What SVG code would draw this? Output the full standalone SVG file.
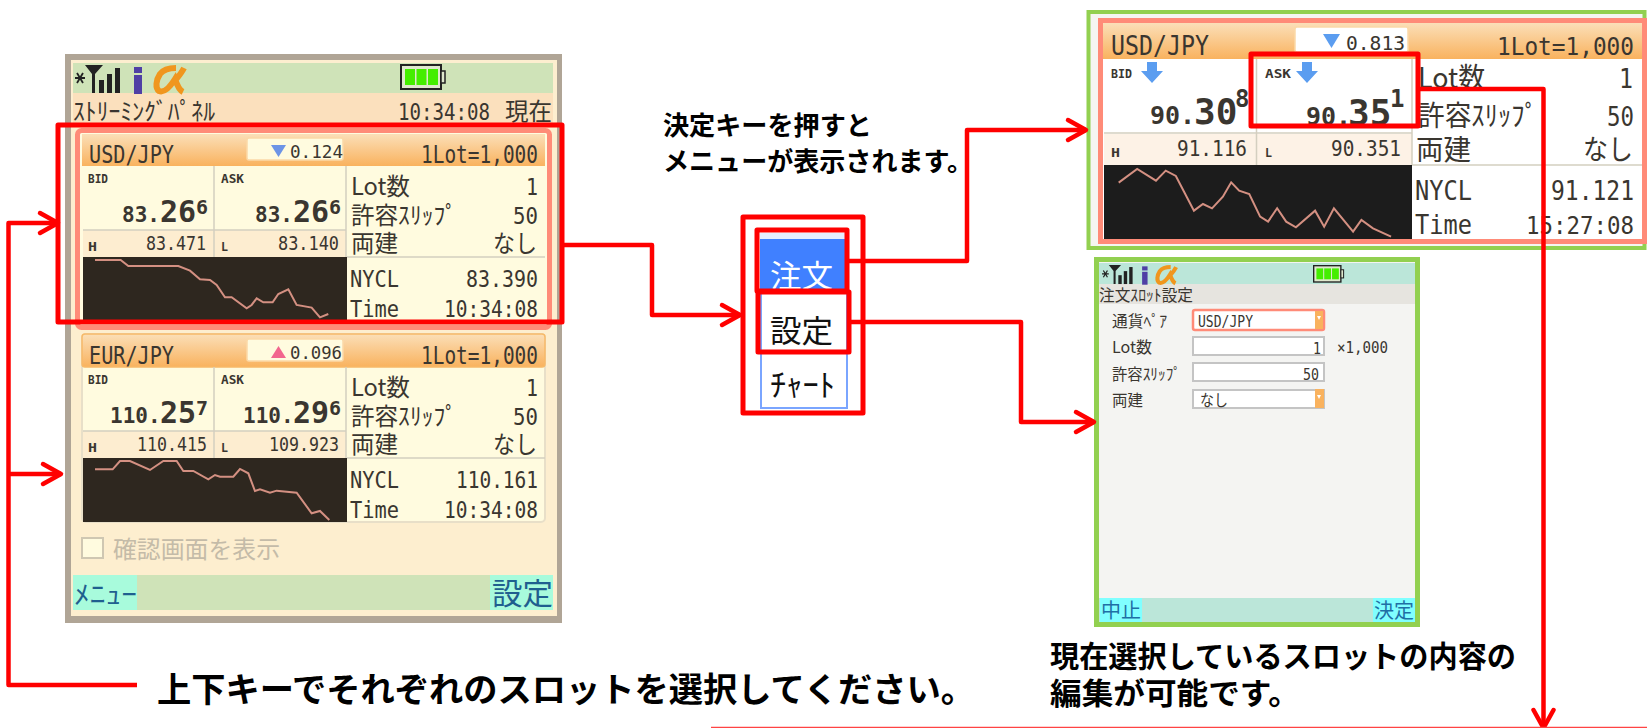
<svg xmlns="http://www.w3.org/2000/svg" width="1647" height="728" viewBox="0 0 1647 728">
<style>
text{white-space:pre}
.m{font-family:"DejaVu Sans Mono","Liberation Mono",monospace;fill:#3a3630}
.j{font-family:"Noto Sans CJK JP","Noto Sans",sans-serif;fill:#3a3630}
.b{font-family:"Noto Sans CJK JP","Liberation Sans",sans-serif;font-weight:700;fill:#000}
.h{font-size:25px}.d{font-size:18px}.t{font-size:12px;font-weight:700}
.p1{font-size:21px;font-weight:700}.p2{font-size:30px;font-weight:700}.p3{font-size:20px;font-weight:700}.v{font-size:19px}
.j2{font-size:24px}.n{font-size:23px}
.h2{font-size:27px}.h3{font-size:24px}.n2{font-size:27px}.n3{font-size:24px}.j3{font-size:28px}.v2{font-size:21px}.d2{font-size:20px}
.q1{font-size:25px;font-weight:700}.q2{font-size:36px;font-weight:700}.q3{font-size:24px;font-weight:700}
.hl{fill:none;stroke:#f00;stroke-width:5;stroke-linejoin:round}
.cn{fill:none;stroke:#f00;stroke-width:4.500;stroke-linejoin:round}
.ar{marker-end:url(#open)}
.chart{fill:none;stroke:#d49082;stroke-width:2;vector-effect:non-scaling-stroke}
.grid{stroke:#d4cfc0;stroke-width:1.500;fill:none}
.f{fill:#fff;stroke:#c4c4c4;stroke-width:2}
.s{font-size:16px}
</style>
<defs>
<linearGradient id="hd" x1="0" y1="0" x2="0" y2="1"><stop offset="0" stop-color="#fbdfb8"/><stop offset="1" stop-color="#f9b25e"/></linearGradient>
<marker id="open" markerUnits="userSpaceOnUse" markerWidth="26" markerHeight="26" viewBox="0 0 26 26" refX="22" refY="13" orient="auto" overflow="visible"><path d="M4 3L22 13L4 23" fill="none" stroke="#f00" stroke-width="4.500" stroke-linecap="round" stroke-linejoin="round"/></marker>
<g id="status">
<path d="M0 13H10M2 8L8 18M8 8L2 18" stroke="#222" stroke-width="1.800" fill="none"/>
<path d="M10 0H28L20 9V28H17V9Z" fill="#222"/>
<rect x="24" y="15" width="5" height="13" fill="#222"/><rect x="32" y="9" width="5" height="19" fill="#222"/><rect x="40" y="3" width="5" height="25" fill="#222"/>
<rect x="59" y="2" width="8" height="6" fill="#4f3fa5"/><rect x="59" y="10" width="8" height="19" fill="#4f3fa5"/>
<path d="M101 3C92 3 88 5 85 9C81 15 80 23 84 26C89 28 95 22 100 14C102 20 104 25 108 27M109 3C106 9 103 12 98 18" fill="none" stroke="#f0961e" stroke-width="6"/>
</g>
<g id="battery">
<rect x="1" y="1" width="40" height="24" fill="#dfe8cd" stroke="#222" stroke-width="2"/>
<rect x="41" y="7" width="4" height="12" fill="#dfe8cd" stroke="#222" stroke-width="1.500"/>
<rect x="5" y="5" width="10" height="16" fill="#44ee00"/><rect x="16.500" y="5" width="10" height="16" fill="#44ee00"/><rect x="28" y="5" width="10" height="16" fill="#44ee00"/>
</g>
</defs>
<rect width="1647" height="728" fill="#fff"/>

<g id="phone-streaming">
<rect x="65" y="54" width="497" height="569" fill="#b0a596"/>
<rect x="71" y="60" width="486" height="556" fill="#fdeecf"/>
<rect x="73" y="63" width="480" height="30" fill="#cfe3b8"/>
<rect x="73" y="93" width="480" height="32" fill="#fbe0bd"/>
<use href="#status" x="75" y="65"/>
<use href="#battery" x="400" y="64"/>
<text class="j j2" x="73" y="120" textLength="142" lengthAdjust="spacingAndGlyphs">ｽﾄﾘｰﾐﾝｸﾞﾊﾟﾈﾙ</text>
<text class="m n" x="398" y="120" textLength="92" lengthAdjust="spacingAndGlyphs">10:34:08</text>
<text class="j j2" x="505" y="120" textLength="47" lengthAdjust="spacingAndGlyphs">現在</text>

<g id="slot-usd">
<rect x="77.500" y="130.500" width="472" height="197" rx="4" fill="#fffbdf" stroke="#ff8b78" stroke-width="5"/>
<rect x="82" y="134" width="463" height="32" fill="url(#hd)"/>
<rect x="247" y="138" width="96" height="22" rx="2" fill="#fffbdf" stroke="#fbd9a8" stroke-width="1.500"/>
<path d="M271 145H286L278.500 157Z" fill="#6d94e6"/>
<rect x="83" y="230" width="263" height="27" fill="#fdedd0"/>
<rect x="83" y="257" width="264" height="63" fill="#2e271f"/>
<path class="grid" d="M214 166V257M346 166V257M83 230H346M347 257H545"/>
<text class="m h" x="89" y="163" textLength="85" lengthAdjust="spacingAndGlyphs">USD/JPY</text>
<text class="m h" x="421" y="163" textLength="117" lengthAdjust="spacingAndGlyphs">1Lot=1,000</text>
<text class="m d" x="290" y="158" textLength="53" lengthAdjust="spacingAndGlyphs">0.124</text>
<text class="m t" x="88" y="183" textLength="20" lengthAdjust="spacingAndGlyphs">BID</text>
<text class="m t" x="221" y="183" textLength="23" lengthAdjust="spacingAndGlyphs">ASK</text>
<text class="m"><tspan class="p1" x="122" y="222">83.</tspan><tspan class="p2" x="160" y="222">26</tspan><tspan class="p3" x="196" y="214">6</tspan></text>
<text class="m"><tspan class="p1" x="255" y="222">83.</tspan><tspan class="p2" x="293" y="222">26</tspan><tspan class="p3" x="329" y="214">6</tspan></text>
<text class="m t" x="88" y="251" textLength="9" lengthAdjust="spacingAndGlyphs">H</text>
<text class="m v" x="146" y="250" textLength="60" lengthAdjust="spacingAndGlyphs">83.471</text>
<text class="m t" x="221" y="251" textLength="7" lengthAdjust="spacingAndGlyphs">L</text>
<text class="m v" x="278" y="250" textLength="61" lengthAdjust="spacingAndGlyphs">83.140</text>
<text class="j j2" x="351" y="195" textLength="59" lengthAdjust="spacingAndGlyphs">Lot数</text>
<text class="m n" x="526" y="195" textLength="12" lengthAdjust="spacingAndGlyphs">1</text>
<text class="j j2" x="351" y="224" textLength="106" lengthAdjust="spacingAndGlyphs">許容ｽﾘｯﾌﾟ</text>
<text class="m n" x="513" y="224" textLength="25" lengthAdjust="spacingAndGlyphs">50</text>
<text class="j j2" x="351" y="252" textLength="47" lengthAdjust="spacingAndGlyphs">両建</text>
<text class="j j2" x="493" y="252" textLength="44" lengthAdjust="spacingAndGlyphs">なし</text>
<text class="m n" x="350" y="287" textLength="49" lengthAdjust="spacingAndGlyphs">NYCL</text>
<text class="m n" x="466" y="287" textLength="72" lengthAdjust="spacingAndGlyphs">83.390</text>
<text class="m n" x="350" y="317" textLength="49" lengthAdjust="spacingAndGlyphs">Time</text>
<text class="m n" x="444" y="317" textLength="94" lengthAdjust="spacingAndGlyphs">10:34:08</text>
<polyline class="chart" transform="translate(50,40) scale(0.3333)" points="135,660 212,660 235,678 385,678 420,692 450,718 480,720 500,735 525,772 545,772 590,805 605,795 620,775 640,787 668,787 685,762 715,748 740,795 785,803 810,832 835,822"/>
</g>

<g id="slot-eur" transform="translate(0,201)">
<rect x="82" y="133" width="463" height="188" rx="4" fill="#fffbdf" stroke="#e8dfc8" stroke-width="2"/>
<rect x="82" y="133" width="463" height="33" rx="3" fill="url(#hd)" stroke="#f7b968" stroke-width="1.500"/>
<rect x="247" y="138" width="96" height="22" rx="2" fill="#fffbdf" stroke="#fbd9a8" stroke-width="1.500"/>
<path d="M271 157H286L278.500 145Z" fill="#f2668e"/>
<rect x="83" y="230" width="263" height="27" fill="#fdedd0"/>
<rect x="83" y="257" width="264" height="64" fill="#2e271f"/>
<path class="grid" d="M214 166V257M346 166V257M83 230H346M347 257H545"/>
<text class="m h" x="89" y="163" textLength="85" lengthAdjust="spacingAndGlyphs">EUR/JPY</text>
<text class="m h" x="421" y="163" textLength="117" lengthAdjust="spacingAndGlyphs">1Lot=1,000</text>
<text class="m d" x="290" y="158" textLength="52" lengthAdjust="spacingAndGlyphs">0.096</text>
<text class="m t" x="88" y="183" textLength="20" lengthAdjust="spacingAndGlyphs">BID</text>
<text class="m t" x="221" y="183" textLength="23" lengthAdjust="spacingAndGlyphs">ASK</text>
<text class="m"><tspan class="p1" x="110" y="222">110.</tspan><tspan class="p2" x="160" y="222">25</tspan><tspan class="p3" x="196" y="214">7</tspan></text>
<text class="m"><tspan class="p1" x="243" y="222">110.</tspan><tspan class="p2" x="293" y="222">29</tspan><tspan class="p3" x="329" y="214">6</tspan></text>
<text class="m t" x="88" y="251" textLength="9" lengthAdjust="spacingAndGlyphs">H</text>
<text class="m v" x="137" y="250" textLength="70" lengthAdjust="spacingAndGlyphs">110.415</text>
<text class="m t" x="221" y="251" textLength="7" lengthAdjust="spacingAndGlyphs">L</text>
<text class="m v" x="269" y="250" textLength="70" lengthAdjust="spacingAndGlyphs">109.923</text>
<text class="j j2" x="351" y="195" textLength="59" lengthAdjust="spacingAndGlyphs">Lot数</text>
<text class="m n" x="526" y="195" textLength="12" lengthAdjust="spacingAndGlyphs">1</text>
<text class="j j2" x="351" y="224" textLength="106" lengthAdjust="spacingAndGlyphs">許容ｽﾘｯﾌﾟ</text>
<text class="m n" x="513" y="224" textLength="25" lengthAdjust="spacingAndGlyphs">50</text>
<text class="j j2" x="351" y="252" textLength="47" lengthAdjust="spacingAndGlyphs">両建</text>
<text class="j j2" x="493" y="252" textLength="44" lengthAdjust="spacingAndGlyphs">なし</text>
<text class="m n" x="350" y="287" textLength="49" lengthAdjust="spacingAndGlyphs">NYCL</text>
<text class="m n" x="456" y="287" textLength="82" lengthAdjust="spacingAndGlyphs">110.161</text>
<text class="m n" x="350" y="317" textLength="49" lengthAdjust="spacingAndGlyphs">Time</text>
<text class="m n" x="444" y="317" textLength="94" lengthAdjust="spacingAndGlyphs">10:34:08</text>
</g>
<polyline class="chart" transform="translate(50,310) scale(0.3333)" points="135,478 188,478 210,453 240,453 300,480 340,453 380,453 400,483 430,483 475,508 495,495 510,500 550,500 570,477 595,490 615,543 630,538 660,548 680,542 740,548 785,610 810,603 838,630"/>

<rect x="82" y="538" width="21" height="20" fill="#fffbdf" stroke="#cfc7b2" stroke-width="2"/>
<text class="j" x="113" y="558" font-size="24" style="fill:#c4bba8" textLength="167" lengthAdjust="spacingAndGlyphs">確認画面を表示</text>
<rect x="73" y="575" width="480" height="35" fill="#cfe3b8"/>
<rect x="73" y="575" width="64" height="35" fill="#a8fbdc"/>
<rect x="490" y="575" width="63" height="35" fill="#a8fbdc"/>
<text class="j" x="74" y="604" font-size="26" style="fill:#1f5f8f" textLength="63" lengthAdjust="spacingAndGlyphs">ﾒﾆｭｰ</text>
<text class="j" x="492" y="604" font-size="30" style="fill:#1f5f8f" textLength="61" lengthAdjust="spacingAndGlyphs">設定</text>
</g>

<g id="menu">
<rect x="760" y="233" width="86" height="6" fill="#e6eeff"/>
<rect x="760" y="239" width="86" height="52" fill="#4080ff"/>
<rect x="761" y="292" width="86" height="116" fill="#fff" stroke="#7aa5ff" stroke-width="2"/>
<text class="j" x="770" y="287" font-size="31" style="fill:#fff" textLength="63" lengthAdjust="spacingAndGlyphs">注文</text>
<text class="j" x="770" y="342" font-size="31" style="fill:#111" textLength="63" lengthAdjust="spacingAndGlyphs">設定</text>
<text class="j" x="770" y="396" font-size="31" style="fill:#111" textLength="65" lengthAdjust="spacingAndGlyphs">ﾁｬｰﾄ</text>
</g>

<g id="detail-panel">
<rect x="1088.500" y="12" width="556" height="236" fill="#f5f5f2" stroke="#92d050" stroke-width="4"/>
<rect x="1100.500" y="20.500" width="544" height="221" fill="#fff" stroke="#ff8b78" stroke-width="5"/>
<rect x="1103" y="23" width="539" height="36" fill="url(#hd)"/>
<rect x="1295" y="27" width="113" height="25" rx="2" fill="#fff" stroke="#fbd9a8" stroke-width="1.500"/>
<path d="M1323 34H1340L1331.500 48Z" fill="#5b9df0"/>
<rect x="1104" y="134" width="308" height="31" fill="#fdf2e6"/>
<rect x="1104" y="165" width="308" height="74" fill="#1c1c1c"/>
<path class="grid" d="M1256.500 59V165M1412 59V165M1104 133H1412M1412 165H1642"/>
<path d="M1147 62H1157V71H1163L1152 83L1141 71H1147Z" fill="#5b9df0"/>
<path d="M1302 62H1312V71H1318L1307 83L1296 71H1302Z" fill="#5b9df0"/>
<text class="m h2" x="1111" y="55" textLength="98" lengthAdjust="spacingAndGlyphs">USD/JPY</text>
<text class="m h3" x="1497" y="55" textLength="137" lengthAdjust="spacingAndGlyphs">1Lot=1,000</text>
<text class="m d2" x="1346" y="50" textLength="59" lengthAdjust="spacingAndGlyphs">0.813</text>
<text class="m t" x="1111" y="78" textLength="21" lengthAdjust="spacingAndGlyphs">BID</text>
<text class="m t" x="1265" y="78" textLength="26" lengthAdjust="spacingAndGlyphs">ASK</text>
<text class="m"><tspan class="q1" x="1150" y="124">90.</tspan><tspan class="q2" x="1194" y="124">30</tspan><tspan class="q3" x="1235" y="107">8</tspan></text>
<text class="m"><tspan class="q1" x="1306" y="125">90.</tspan><tspan class="q2" x="1348" y="125">35</tspan><tspan class="q3" x="1390" y="107">1</tspan></text>
<text class="m t" x="1111" y="157" textLength="9" lengthAdjust="spacingAndGlyphs">H</text>
<text class="m v2" x="1177" y="156" textLength="70" lengthAdjust="spacingAndGlyphs">91.116</text>
<text class="m t" x="1265" y="157" textLength="7" lengthAdjust="spacingAndGlyphs">L</text>
<text class="m v2" x="1331" y="156" textLength="70" lengthAdjust="spacingAndGlyphs">90.351</text>
<text class="j j3" x="1418" y="88" textLength="67" lengthAdjust="spacingAndGlyphs">Lot数</text>
<text class="m n2" x="1619" y="88" textLength="14" lengthAdjust="spacingAndGlyphs">1</text>
<text class="j j3" x="1418" y="126" textLength="120" lengthAdjust="spacingAndGlyphs">許容ｽﾘｯﾌﾟ</text>
<text class="m n2" x="1607" y="126" textLength="27" lengthAdjust="spacingAndGlyphs">50</text>
<text class="j j3" x="1416" y="160" textLength="55" lengthAdjust="spacingAndGlyphs">両建</text>
<text class="j j3" x="1583" y="160" textLength="50" lengthAdjust="spacingAndGlyphs">なし</text>
<text class="m n2" x="1415" y="200" textLength="57" lengthAdjust="spacingAndGlyphs">NYCL</text>
<text class="m n2" x="1551" y="200" textLength="83" lengthAdjust="spacingAndGlyphs">91.121</text>
<text class="m n2" x="1415" y="234" textLength="57" lengthAdjust="spacingAndGlyphs">Time</text>
<text class="m n3" x="1526" y="234" textLength="108" lengthAdjust="spacingAndGlyphs">15:27:08</text>
<polyline class="chart" transform="matrix(0.3617,0,0,0.3333,1080,0)" points="107,548 158,507 210,542 237,512 265,528 315,632 340,612 365,625 395,590 418,547 440,572 468,582 498,650 520,665 545,625 570,665 597,682 650,632 675,680 702,625 755,695 778,660 810,685 860,710"/>
</g>

<g id="order-settings">
<rect x="1096.500" y="259.500" width="321" height="365" fill="#f4f4f2" stroke="#92d050" stroke-width="5"/>
<rect x="1099" y="263" width="316" height="21" fill="#bbe6d9"/>
<rect x="1099" y="284" width="316" height="20" fill="#e6e4df"/>
<use href="#status" transform="translate(1102,265) scale(0.68)"/>
<use href="#battery" transform="translate(1313,265) scale(0.68)"/>
<text class="j s" x="1099" y="301" textLength="94" lengthAdjust="spacingAndGlyphs">注文ｽﾛｯﾄ設定</text>
<text class="j s" x="1112" y="327" textLength="55" lengthAdjust="spacingAndGlyphs">通貨ﾍﾟｱ</text>
<text class="j s" x="1112" y="353" textLength="40" lengthAdjust="spacingAndGlyphs">Lot数</text>
<text class="j s" x="1112" y="380" textLength="69" lengthAdjust="spacingAndGlyphs">許容ｽﾘｯﾌﾟ</text>
<text class="j s" x="1112" y="406" textLength="31" lengthAdjust="spacingAndGlyphs">両建</text>
<rect x="1193" y="310" width="131" height="20" rx="2" fill="#fff" stroke="#ff8b78" stroke-width="2.500"/>
<rect x="1315" y="311" width="8" height="18" fill="#f9b25e"/>
<rect class="f" x="1193" y="337" width="131" height="18"/>
<rect class="f" x="1193" y="363" width="131" height="18"/>
<rect class="f" x="1193" y="390" width="131" height="18"/>
<rect x="1315" y="389" width="9" height="19" fill="#f9b25e"/>
<path d="M1317 316H1321L1319 320ZM1317 395H1321L1319 399Z" fill="#fff"/>
<text class="m s" x="1198" y="327" textLength="55" lengthAdjust="spacingAndGlyphs">USD/JPY</text>
<text class="m s" x="1313" y="354" textLength="8" lengthAdjust="spacingAndGlyphs">1</text>
<text class="m s" x="1303" y="380" textLength="16" lengthAdjust="spacingAndGlyphs">50</text>
<text class="j s" x="1200" y="406" textLength="28" lengthAdjust="spacingAndGlyphs">なし</text>
<text class="m s" x="1337" y="353" textLength="51" lengthAdjust="spacingAndGlyphs">×1,000</text>
<rect x="1099" y="598" width="316" height="24" fill="#bbe6d9"/>
<rect x="1100" y="598" width="42" height="24" fill="#80ffff"/>
<rect x="1373" y="598" width="42" height="24" fill="#80ffff"/>
<text class="j" x="1101" y="618" font-size="20" style="fill:#1f6fa5" textLength="40" lengthAdjust="spacingAndGlyphs">中止</text>
<text class="j" x="1374" y="618" font-size="20" style="fill:#1f6fa5" textLength="40" lengthAdjust="spacingAndGlyphs">決定</text>
</g>

<g id="captions">
<text class="b" x="663" y="135" font-size="26" textLength="209" lengthAdjust="spacingAndGlyphs">決定キーを押すと</text>
<text class="b" x="663" y="171" font-size="26" textLength="310" lengthAdjust="spacingAndGlyphs">メニューが表示されます。</text>
<text class="b" x="157" y="702" font-size="34" textLength="818" lengthAdjust="spacingAndGlyphs">上下キーでそれぞれのスロットを選択してください。</text>
<text class="b" x="1050" y="667" font-size="30" textLength="466" lengthAdjust="spacingAndGlyphs">現在選択しているスロットの内容の</text>
<text class="b" x="1050" y="704" font-size="30" textLength="250" lengthAdjust="spacingAndGlyphs">編集が可能です。</text>
</g>

<g id="highlights">
<rect class="hl" x="58" y="125" width="504" height="197"/>
<rect class="hl" x="743" y="217" width="120" height="196"/>
<rect class="hl" x="757" y="230" width="90" height="61"/>
<rect class="hl" x="758" y="292" width="91" height="60"/>
<rect class="hl" x="1251" y="54" width="167" height="72"/>
</g>

<g id="connectors">
<path class="cn ar" d="M137 685H8.500V223H58"/>
<path class="cn ar" d="M8.500 474H61"/>
<path class="cn ar" d="M562 245H652V315H740"/>
<path class="cn ar" d="M847 261H967V130H1086"/>
<path class="cn ar" d="M849 322H1021V422H1094"/>
<path class="cn ar" d="M1419 89H1543.500V728"/>
<path d="M711 727.500H1647" stroke="#f44" stroke-width="1.500" fill="none"/>
</g>
</svg>
